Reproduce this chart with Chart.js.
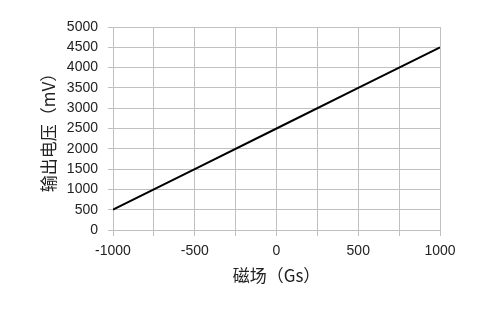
<!DOCTYPE html>
<html>
<head>
<meta charset="utf-8">
<script src="https://cdn.jsdelivr.net/npm/chart.js@4/dist/chart.umd.min.js"></script>
<style>
  html, body { margin: 0; padding: 0; background: #fff; }
  #wrap { width: 497px; height: 310px; }
</style>
</head>
<body>
<div id="wrap"><canvas id="c" width="497" height="310"></canvas></div>
<script>
// field (Gs) vs output voltage (mV)
const fieldGs = [-1000, -500, 0, 500, 1000];
const outputMv = [500, 1500, 2500, 3500, 4500];
const xTitle = "磁场（Gs）";
const yTitle = "输出电压（mV）";

const tickFont = { family: "Liberation Sans, Arial, sans-serif", size: 14 };
const titleFont = { family: "'Noto Sans CJK SC', 'Liberation Sans', sans-serif", size: 17 };
const gridColor = "#c0c0c0";

const points = fieldGs.map((x, i) => ({ x, y: outputMv[i] }));

new Chart(document.getElementById("c").getContext("2d"), {
    type: "scatter",
    data: {
        datasets: [{
            data: points,
            showLine: true,
            borderColor: "#000",
            borderWidth: 2,
            pointRadius: 0,
            tension: 0,
        }],
    },
    options: {
        responsive: false,
        animation: false,
        layout: { padding: { left: 0, top: 27, right: 57, bottom: 20 } },
        plugins: { legend: { display: false }, tooltip: { enabled: false } },
        scales: {
            x: {
                type: "linear",
                min: -1000,
                max: 1000,
                grid: { color: gridColor, tickLength: 6, tickColor: gridColor },
                border: { color: gridColor },
                ticks: {
                    stepSize: 250,
                    padding: 7,
                    color: "#222",
                    font: tickFont,
                    maxRotation: 0,
                    autoSkip: false,
                    callback: (v) => (v % 500 === 0 ? String(v) : ""),
                },
                title: { display: true, text: xTitle, color: "#222", font: titleFont, padding: { top: 4, bottom: 4 } },
                afterFit: (s) => { s.height = 60; },
            },
            y: {
                min: 0,
                max: 5000,
                grid: { color: gridColor, tickLength: 5, tickColor: gridColor },
                border: { color: gridColor },
                ticks: { stepSize: 500, padding: 10, color: "#222", font: tickFont, callback: (v) => String(v) },
                title: { display: true, text: yTitle, color: "#222", font: titleFont, padding: { top: 38, bottom: 4 } },
                afterFit: (s) => { s.width = 113; },
            },
        },
    },
});
</script>
</body>
</html>
